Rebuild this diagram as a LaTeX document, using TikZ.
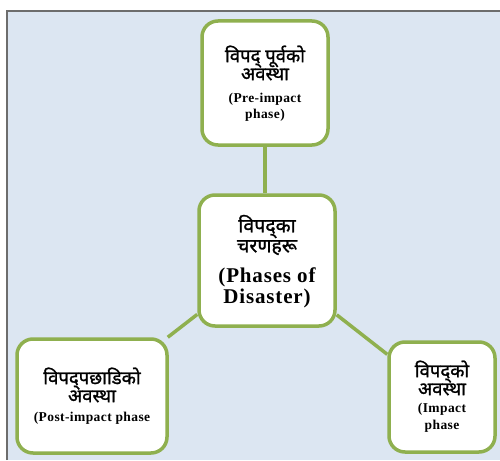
\documentclass[tikz,border=0pt]{standalone}
\usepackage{fontspec}
\setmainfont{Liberation Serif}
\newfontfamily\deva[Script=Devanagari,FakeBold=1.2]{Noto Sans}
\definecolor{bgblue}{HTML}{DCE6F2}
\definecolor{boxgreen}{HTML}{8FB04F}
\definecolor{framegray}{HTML}{6D6D6D}
\begin{document}
\begin{tikzpicture}[x=1pt,y=-1pt,
  phase/.style={draw=boxgreen, line width=3.5pt, rounded corners=16pt, fill=white, align=center, inner sep=0pt},
  dvs/.style={font=\deva\fontsize{18.5}{18}\selectfont, align=center},
  ens/.style={font=\bfseries\fontsize{13.5}{16}\selectfont\addfontfeatures{LetterSpace=3}, align=center},
  link/.style={draw=boxgreen, line width=3.5pt}]
\useasboundingbox (0,0) rectangle (500,460);
\fill[bgblue] (7,11) rectangle (500,460);
\draw[framegray, line width=1.5pt] (7,460) -- (7,11) -- (500,11);
\node[phase, minimum width=126pt, minimum height=124pt] (pre) at (265,83) {};
\node[dvs] (preA) at (265,63) {विपद् पूर्वको\\अवस्था};
\node[ens] (preB) at (265,107) {(Pre-impact\\phase)};
\node[phase, minimum width=136pt, minimum height=131pt] (main) at (267,260.5) {};
\node[dvs, font=\deva\fontsize{19.5}{20}\selectfont] (mainA) at (267,235) {विपद्का\\चरणहरू};
\node[font=\bfseries\fontsize{21}{21}\selectfont\addfontfeatures{LetterSpace=4}, align=center] (mainB) at (267,288) {(Phases of\\Disaster)};
\node[phase, minimum width=150pt, minimum height=114pt] (post) at (92,396) {};
\node[dvs] (postA) at (92,385) {विपद्पछाडिको\\अवस्था};
\node[ens] (postB) at (92,418) {(Post-impact phase};
\node[phase, minimum width=106pt, minimum height=110pt] (imp) at (442,397) {};
\node[dvs] (impA) at (442,378) {विपद्को\\अवस्था};
\node[ens, font=\bfseries\fontsize{13.5}{17}\selectfont\addfontfeatures{LetterSpace=3}] (impB) at (442,418) {(Impact\\phase};
\draw[link] (pre.south) -- (pre.south |- main.north);
\draw[link] (main) -- (post);
\draw[link] (main) -- (imp);
\end{tikzpicture}
\end{document}
